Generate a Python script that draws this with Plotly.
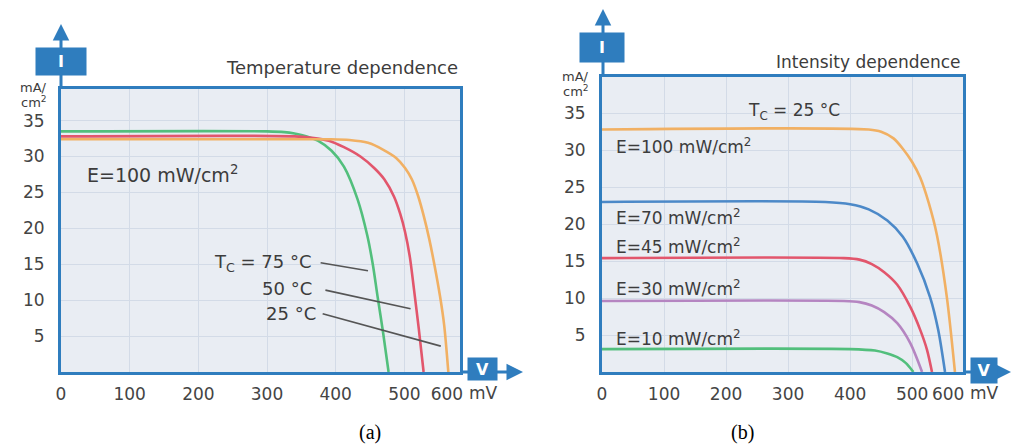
import plotly.graph_objects as go

# ---------------- data ----------------
# Panel (a): temperature dependence, E = 100 mW/cm2
a_v_75 = [0, 300, 325, 340, 358, 374, 394, 412, 432, 446, 454, 461, 469, 477]
a_i_75 = [33.5, 33.5, 33.4, 33.2, 32.8, 32.2, 30.8, 28.6, 24.0, 19.0, 15.0, 10.5, 5.5, 0]
a_v_50 = [0, 340, 365, 390, 412, 436, 456, 471, 485, 494, 501, 508, 514, 521, 528]
a_i_50 = [32.8, 32.8, 32.6, 32.2, 31.3, 30.0, 28.4, 26.8, 24.4, 22.0, 19.5, 16.0, 11.5, 6.0, 0]
a_v_25 = [0, 390, 420, 447, 470, 488, 501, 511, 520, 528, 536, 544, 552, 558, 564]
a_i_25 = [32.4, 32.4, 32.3, 31.9, 30.9, 29.8, 28.4, 26.8, 24.5, 21.8, 18.6, 14.8, 10.5, 6.5, 0]

# Panel (b): intensity dependence, Tc = 25 C
b_v_100 = [0, 430, 450, 470, 485, 500, 513, 527, 540, 556, 569]
b_i_100 = [32.8, 32.8, 32.5, 31.6, 30.2, 28.4, 26.3, 22.8, 18.5, 10.1, 0]
b_v_70 = [0, 360, 400, 430, 460, 485, 508, 529, 542, 553]
b_i_70 = [23.0, 23.0, 22.7, 22.0, 20.5, 18.3, 14.7, 10.1, 5.7, 0]
b_v_45 = [0, 390, 415, 435, 455, 476, 497, 513, 524, 532]
b_i_45 = [15.4, 15.4, 15.2, 14.6, 13.5, 11.8, 8.8, 5.7, 3.0, 0]
b_v_30 = [0, 390, 415, 435, 455, 476, 497, 516]
b_i_30 = [9.6, 9.6, 9.45, 9.0, 8.1, 6.6, 3.9, 0]
b_v_10 = [0, 400, 440, 460, 476, 490, 502]
b_i_10 = [3.1, 3.1, 2.9, 2.5, 2.0, 1.2, 0]

# tick labels
x_tick_text = ["0", "100", "200", "300", "400", "500", "600"]
a_x_tick_vals = [0, 100, 200, 300, 400, 500, 562]
b_x_tick_vals = [0, 100, 200, 300, 400, 500, 558]
x_grid_vals = [100, 200, 300, 400, 500]
y_tick_vals = [5, 10, 15, 20, 25, 30, 35]

# temperature labels and leader lines (panel a)
temp_labels = ["T<sub>C</sub> = 75 °C", "50 °C", "25 °C"]
temp_label_x = [368, 368, 374]
temp_label_y = [15.2, 11.6, 8.2]
lead_x0 = [378, 385, 381]
lead_y0 = [15.2, 11.4, 8.1]
lead_x1 = [447, 509, 553]
lead_y1 = [14.1, 8.8, 3.6]

# intensity labels (panel b)
int_labels = ["E=100 mW/cm<sup>2</sup>", "E=70 mW/cm<sup>2</sup>", "E=45 mW/cm<sup>2</sup>",
              "E=30 mW/cm<sup>2</sup>", "E=10 mW/cm<sup>2</sup>"]
int_label_y = [30.5, 21.0, 17.0, 11.4, 4.6]

# ---------------- styling ----------------
W, H = 1013, 445
BLUE = "#2f7dbe"
BG = "#e9edf3"
GRID = "#d3dbe7"
TXT = "#3c3c3c"
FONT = "DejaVu Sans"

GREEN = "#52bf7c"
RED = "#e2566c"
ORANGE = "#f1b063"
LBLUE = "#4c89c8"
PURPLE = "#b585c1"


def px(x):
    return x / W


def py(y):
    return 1 - y / H


fig = go.Figure()

def add_line(xv, yv, color, xa, ya):
    fig.add_trace(go.Scatter(x=xv, y=yv, mode="lines", xaxis=xa, yaxis=ya,
                             line=dict(color=color, width=2.6, shape="spline", smoothing=0.8),
                             showlegend=False, hoverinfo="skip"))

add_line(a_v_75, a_i_75, GREEN, "x", "y")
add_line(a_v_50, a_i_50, RED, "x", "y")
add_line(a_v_25, a_i_25, ORANGE, "x", "y")

add_line(b_v_100, b_i_100, ORANGE, "x2", "y2")
add_line(b_v_70, b_i_70, LBLUE, "x2", "y2")
add_line(b_v_45, b_i_45, RED, "x2", "y2")
add_line(b_v_30, b_i_30, PURPLE, "x2", "y2")
add_line(b_v_10, b_i_10, GREEN, "x2", "y2")

tickfont = dict(family=FONT, size=17, color="#444444")

def xaxis(domain, tickvals, rng):
    return dict(domain=domain, range=rng, tickmode="array", tickvals=tickvals,
                ticktext=x_tick_text, showgrid=False, zeroline=False,
                showline=True, mirror=True, linecolor=BLUE, linewidth=3,
                ticks="", tickfont=tickfont, ticklabelstandoff=5,
                minor=dict(tickmode="array", tickvals=x_grid_vals, showgrid=True,
                           gridcolor=GRID, gridwidth=1, ticks=""),
                fixedrange=True)

def yaxis(domain, rng, anchor):
    return dict(domain=domain, range=rng, tickmode="array", tickvals=y_tick_vals,
                showgrid=True, gridcolor=GRID, gridwidth=1, zeroline=False,
                showline=True, mirror=True, linecolor=BLUE, linewidth=3,
                ticks="", tickfont=tickfont, ticklabelstandoff=10, anchor=anchor,
                fixedrange=True)

layout = dict(
    width=W, height=H,
    margin=dict(l=0, r=0, t=0, b=0, autoexpand=False),
    paper_bgcolor="white", plot_bgcolor=BG,
    xaxis=xaxis([px(61), px(460)], a_x_tick_vals, [0, 581]),
    yaxis=yaxis([py(372), py(89)], [0, 39.4], "x"),
    xaxis2=xaxis([px(602), px(963)], b_x_tick_vals, [0, 582]),
    yaxis2=yaxis([py(372), py(77)], [0, 39.9], "x2"),
    showlegend=False,
)
layout["xaxis"]["anchor"] = "y"
layout["xaxis2"]["anchor"] = "y2"
fig.update_layout(**layout)

ann = []
# axis arrows (extensions of the axes)
for (hx, hy, ax_, ay_) in [(61, 24, 0, 65), (523, 372, -63, 0), (603, 9, 0, 68), (1011, 372, -48, 0)]:
    ann.append(dict(xref="paper", yref="paper", x=px(hx), y=py(hy), ax=ax_, ay=ay_,
                    text="", showarrow=True, arrowhead=2, arrowsize=1.1, arrowwidth=3,
                    arrowcolor=BLUE, standoff=0, startstandoff=0))
# blue boxes with I / V
for (cx, cy, w, h, t) in [(61, 61.5, 50, 27, "I"), (602, 48, 44, 29, "I"),
                          (482, 369, 29, 22, "V"), (984, 370, 26, 25, "V")]:
    ann.append(dict(xref="paper", yref="paper", x=px(cx), y=py(cy), text="<b>%s</b>" % t,
                    showarrow=False, bgcolor=BLUE, width=w, height=h, borderpad=0,
                    font=dict(family=FONT, size=16, color="white"),
                    xanchor="center", yanchor="middle"))
# titles
ann.append(dict(xref="paper", yref="paper", x=px(460), y=py(68), text="Temperature dependence",
                showarrow=False, xanchor="right", yanchor="middle",
                font=dict(family=FONT, size=18, color=TXT)))
ann.append(dict(xref="paper", yref="paper", x=px(963), y=py(62), text="Intensity dependence",
                showarrow=False, xanchor="right", yanchor="middle",
                font=dict(family=FONT, size=17, color=TXT)))
# unit labels (two lines, tightly stacked)
for (x_, y1, y2) in [(49, 88, 102), (591, 76, 91)]:
    ann.append(dict(xref="paper", yref="paper", x=px(x_), y=py(y1), text="mA/",
                    showarrow=False, xanchor="right", yanchor="middle",
                    font=dict(family=FONT, size=13, color=TXT)))
    ann.append(dict(xref="paper", yref="paper", x=px(x_), y=py(y2), text="cm<sup>2</sup>",
                    showarrow=False, xanchor="right", yanchor="middle",
                    font=dict(family=FONT, size=13, color=TXT)))
for (x_, y_) in [(483, 393), (984, 393)]:
    ann.append(dict(xref="paper", yref="paper", x=px(x_), y=py(y_), text="mV",
                    showarrow=False, xanchor="center", yanchor="middle",
                    font=dict(family=FONT, size=17, color="#444444")))
# captions
for (x_, t) in [(370, "(a)"), (742, "(b)")]:
    ann.append(dict(xref="paper", yref="paper", x=px(x_), y=py(432), text=t,
                    showarrow=False, xanchor="center", yanchor="middle",
                    font=dict(family="Liberation Serif", size=20, color="black")))
# panel (a) texts
ann.append(dict(xref="x", yref="y", x=35, y=27.5, text="E=100 mW/cm<sup>2</sup>",
                showarrow=False, xanchor="left", yanchor="middle",
                font=dict(family=FONT, size=19, color=TXT)))
for t, x_, y_ in zip(temp_labels, temp_label_x, temp_label_y):
    ann.append(dict(xref="x", yref="y", x=x_, y=y_, text=t, showarrow=False,
                    xanchor="right", yanchor="middle",
                    font=dict(family=FONT, size=18, color=TXT)))
# panel (b) texts
ann.append(dict(xref="x2", yref="y2", x=232, y=35.2, text="T<sub>C</sub> = 25 °C",
                showarrow=False, xanchor="left", yanchor="middle",
                font=dict(family=FONT, size=17, color=TXT)))
for t, y_ in zip(int_labels, int_label_y):
    ann.append(dict(xref="x2", yref="y2", x=19, y=y_, text=t, showarrow=False,
                    xanchor="left", yanchor="middle",
                    font=dict(family=FONT, size=17, color=TXT)))
fig.update_layout(annotations=ann)

shapes = []
for x0, y0, x1, y1 in zip(lead_x0, lead_y0, lead_x1, lead_y1):
    shapes.append(dict(type="line", xref="x", yref="y", x0=x0, y0=y0, x1=x1, y1=y1,
                       line=dict(color="#555555", width=1.6)))
fig.update_layout(shapes=shapes)

fig.write_html("out.html", config={"displayModeBar": False},
               post_script="document.body.style.margin='0';document.body.style.overflow='hidden';")
